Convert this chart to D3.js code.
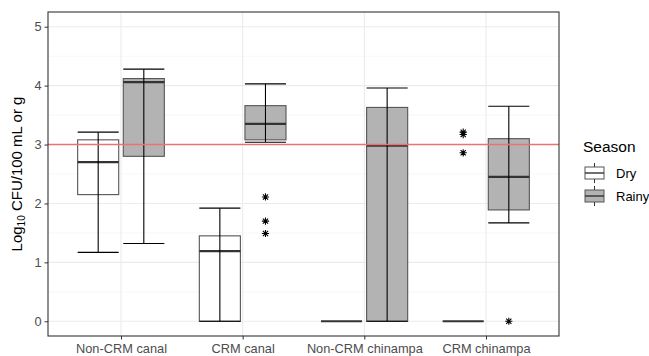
<!DOCTYPE html>
<html>
<head>
<meta charset="utf-8">
<script src="https://cdn.jsdelivr.net/npm/d3@7"></script>
<style>
body { margin:0; background:#fff; font-family:"Liberation Sans", Arial, sans-serif; }
.tick text { fill:#4d4d4d; }
</style>
</head>
<body>
<div id="chart"></div>
<script>
// categories and seasons
var sites = ["Non-CRM canal", "CRM canal", "Non-CRM chinampa", "CRM chinampa"];
var seasons = ["Dry", "Rainy"];
var seasonFill = ["#ffffff", "#b3b3b3"];

// box stats per site: [lower whisker, q1, median, q3, upper whisker]
var dryStats = [
	[1.17, 2.15, 2.70, 3.08, 3.21],
	[0, 0, 1.19, 1.45, 1.92],
	[0, 0, 0, 0, 0],
	[0, 0, 0, 0, 0]
];
var rainyStats = [
	[1.32, 2.80, 4.06, 4.12, 4.28],
	[3.04, 3.08, 3.35, 3.66, 4.03],
	[0, 0, 2.98, 3.63, 3.96],
	[1.67, 1.89, 2.45, 3.10, 3.65]
];
// outliers
var dryOutliers = [[], [], [], [3.21, 3.17, 2.86]];
var rainyOutliers = [[], [2.11, 1.70, 1.49], [], [0]];

var yTicks = [0, 1, 2, 3, 4, 5];
var threshold = 3;

/////////////////////////

var margin = {top:12, right:90, bottom:20, left:48},
    width = 559 - margin.left,
    height = 336 - margin.top;

var svg = d3.select("#chart").append("svg")
	.attr("width", 649)
	.attr("height", 356);
var chart = svg.append("g")
	.attr("transform", "translate("+margin.left+","+margin.top+")");

// scales (ggplot discrete expansion: 0.6 on each side)
var unit = width / (sites.length - 1 + 1.2);
var x = d3.scalePoint().domain(sites).range([unit*0.6, width - unit*0.6]);
var y = d3.scaleLinear().domain([-0.25, 5.25]).range([height, 0]);

var dodge = unit*0.75/2;      // slot for each season
var boxW = dodge*0.9;         // dodge2 padding

// grid
var minor = d3.range(-0.5, 5.5, 1).filter(function(v){ return v>=-0.25; });
chart.append("g").selectAll("line").data(minor).enter().append("line")
	.attr("x1", 0).attr("x2", width)
	.attr("y1", function(d){ return y(d); }).attr("y2", function(d){ return y(d); })
	.attr("stroke", "#f2f2f2").attr("stroke-width", 0.6);
chart.append("g").selectAll("line").data(yTicks).enter().append("line")
	.attr("x1", 0).attr("x2", width)
	.attr("y1", function(d){ return y(d); }).attr("y2", function(d){ return y(d); })
	.attr("stroke", "#ebebeb").attr("stroke-width", 1.1);
chart.append("g").selectAll("line").data(sites).enter().append("line")
	.attr("y1", 0).attr("y2", height)
	.attr("x1", function(d){ return x(d); }).attr("x2", function(d){ return x(d); })
	.attr("stroke", "#ebebeb").attr("stroke-width", 1.1);

// boxes
var allStats = [dryStats, rainyStats];
var allOut = [dryOutliers, rainyOutliers];
seasons.forEach(function(season, si){
	var g = chart.append("g").attr("class", "season-"+season);
	sites.forEach(function(site, i){
		var st = allStats[si][i];
		var c = x(site) + (si==0 ? -dodge/2 : dodge/2);
		// box
		g.append("rect")
			.attr("x", c-boxW/2).attr("width", boxW)
			.attr("y", y(st[3])).attr("height", y(st[1])-y(st[3]))
			.attr("fill", seasonFill[si])
			.attr("stroke", "#555").attr("stroke-width", 1.1);
		// median
		g.append("line")
			.attr("x1", c-boxW/2).attr("x2", c+boxW/2)
			.attr("y1", y(st[2])).attr("y2", y(st[2]))
			.attr("stroke", "#333").attr("stroke-width", 2.2);
		// errorbar
		g.append("line")
			.attr("x1", c).attr("x2", c)
			.attr("y1", y(st[0])).attr("y2", y(st[4]))
			.attr("stroke", "#000").attr("stroke-width", 1.1);
		[st[0], st[4]].forEach(function(v){
			if(st[4]==st[0]) return;
			g.append("line")
				.attr("x1", c-boxW/2).attr("x2", c+boxW/2)
				.attr("y1", y(v)).attr("y2", y(v))
				.attr("stroke", "#000").attr("stroke-width", 1.1);
		});
		// outliers, shape 8
		allOut[si][i].forEach(function(v){
			var px = c, py = y(v), r = 3.6, d = r*0.72;
			g.append("path")
				.attr("d", "M"+(px-r)+","+py+"H"+(px+r)+"M"+px+","+(py-r)+"V"+(py+r)+
					"M"+(px-d)+","+(py-d)+"L"+(px+d)+","+(py+d)+"M"+(px-d)+","+(py+d)+"L"+(px+d)+","+(py-d))
				.attr("stroke", "#000").attr("stroke-width", 1.1);
		});
	});
});

// threshold line
chart.append("line")
	.attr("x1", 0).attr("x2", width)
	.attr("y1", y(threshold)).attr("y2", y(threshold))
	.attr("stroke", "#f07070").attr("stroke-width", 1.4);

// panel border
chart.append("rect").attr("width", width).attr("height", height)
	.attr("fill", "none").attr("stroke", "#333").attr("stroke-width", 1.1);

// axes
var yAxis = chart.append("g").call(d3.axisLeft(y).tickValues(yTicks).tickFormat(d3.format("d")).tickSize(3.5).tickPadding(3));
var xAxis = chart.append("g").attr("transform", "translate(0,"+height+")")
	.call(d3.axisBottom(x).tickSize(3.5).tickPadding(4));
[yAxis, xAxis].forEach(function(a){
	a.select(".domain").remove();
	a.selectAll(".tick line").attr("stroke", "#333");
	a.selectAll(".tick text").style("font-size", "12.8px").style("font-family", "Liberation Sans, Arial, sans-serif");
});

// axis title
var yt = svg.append("text")
	.attr("transform", "translate(22,"+(margin.top+height/2)+") rotate(-90)")
	.style("text-anchor", "middle")
	.style("font-size", "15px")
	.attr("fill", "#000");
yt.append("tspan").text("Log");
yt.append("tspan").attr("dy", 3).style("font-size", "10px").text("10");
yt.append("tspan").attr("dy", -3).text(" CFU/100 mL or g");

// legend
var lg = svg.append("g").attr("transform", "translate(583,0)");
lg.append("text").attr("x", 0).attr("y", 152).style("font-size", "15.5px").text("Season");
seasons.forEach(function(s, i){
	var top = 163 + i*23, kx = 2, kw = 19;
	var k = lg.append("g");
	k.append("line").attr("x1", kx+kw/2).attr("x2", kx+kw/2).attr("y1", top).attr("y2", top+20)
		.attr("stroke", "#333").attr("stroke-width", 1);
	k.append("rect").attr("x", kx).attr("y", top+4).attr("width", kw).attr("height", 12)
		.attr("fill", seasonFill[i]).attr("stroke", "#555").attr("stroke-width", 1);
	k.append("line").attr("x1", kx).attr("x2", kx+kw).attr("y1", top+10).attr("y2", top+10)
		.attr("stroke", "#333").attr("stroke-width", 1.4);
	lg.append("text").attr("x", 33).attr("y", top+14.5).style("font-size", "13px").text(s);
});
</script>
</body>
</html>
